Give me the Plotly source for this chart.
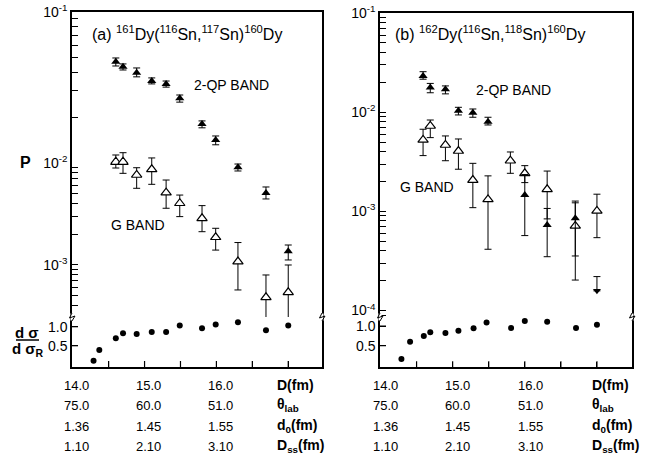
import math
import plotly.graph_objects as go

W, H = 662, 458

# ---------------- data ----------------
# Panel (a): 161Dy(116Sn,117Sn)160Dy
D_a = [14.60, 14.70, 14.89, 15.10, 15.30, 15.49, 15.80, 15.99, 16.30, 16.69, 17.00]
qp_a = [0.0469, 0.0434, 0.0396, 0.0349, 0.0334, 0.0268, 0.0181, 0.0142, 0.00908, 0.00508, 0.00136]
qp_a_hi = [0.0496, 0.0453, 0.0426, 0.0366, 0.0349, 0.0282, 0.0190, 0.0151, 0.00977, 0.00582, 0.00157]
qp_a_lo = [0.0439, 0.0413, 0.0372, 0.0334, 0.0318, 0.0253, 0.0171, 0.0132, 0.00835, 0.00444, 0.00112]
g_a = [0.0102, 0.0102, 0.00763, 0.00867, 0.00512, 0.00403, 0.00287, 0.00187, 0.00108, 0.000482, 0.000540]
g_a_hi = [0.0113, 0.0117, 0.00899, 0.0108, 0.00681, 0.00485, 0.00382, 0.00229, 0.00166, 0.000798, 0.00100]
g_a_lo = [0.00893, 0.00792, 0.00565, 0.00618, 0.00360, 0.00298, 0.00212, 0.00140, 0.000569, 0.000258, 0.000282]
sig_D_a = [14.29, 14.37, 14.60, 14.70, 14.89, 15.10, 15.30, 15.49, 15.80, 15.99, 16.30, 16.69, 17.00]
sig_a = [0.105, 0.387, 0.694, 0.826, 0.808, 0.861, 0.861, 1.03, 0.957, 1.06, 1.12, 0.905, 1.03]

# Panel (b): 162Dy(116Sn,118Sn)160Dy
D_b_qp = [14.59, 14.69, 14.90, 15.08, 15.28, 15.49, 16.00, 16.31, 16.70]
qp_b = [0.0232, 0.0177, 0.0170, 0.01035, 0.00989, 0.00802, 0.00146, 0.00073, 0.00085]
qp_b_hi = [0.0256, 0.0195, 0.0184, 0.0112, 0.01077, 0.00889, 0.00235, 0.00107, 0.00127]
qp_b_lo = [0.0215, 0.0157, 0.0153, 0.00938, 0.00889, 0.00743, 0.00057, 0.000349, 0.000355]
D_b_lim = [17.00]
qp_b_lim = [0.000158]
qp_b_lim_hi = [0.00022]
D_b_g = [14.59, 14.69, 14.90, 15.08, 15.28, 15.49, 15.80, 16.00, 16.31, 16.70, 17.00]
g_b = [0.00525, 0.00726, 0.00467, 0.00406, 0.00207, 0.00132, 0.00324, 0.00242, 0.00167, 0.000713, 0.00101]
g_b_hi = [0.00673, 0.00834, 0.00576, 0.00537, 0.00305, 0.00228, 0.00397, 0.00289, 0.00255, 0.00122, 0.00149]
g_b_lo = [0.00365, 0.00554, 0.00324, 0.00266, 0.00109, 0.000415, 0.00242, 0.00195, 0.00084, 0.000203, 0.000543]
sig_D_b = [14.29, 14.41, 14.60, 14.69, 14.90, 15.08, 15.29, 15.47, 15.81, 16.00, 16.31, 16.71, 17.00]
sig_b = [0.16, 0.60, 0.745, 0.84, 0.82, 0.88, 0.94, 1.09, 0.95, 1.13, 1.11, 0.95, 1.03]

# table under the panels
table_D = ["14.0", "15.0", "16.0"]
table_theta = ["75.0", "60.0", "51.0"]
table_d0 = ["1.36", "1.45", "1.55"]
table_Dss = ["1.10", "2.10", "3.10"]
row_titles = ["D(fm)", "θ<sub>lab</sub>", "d<sub>0</sub>(fm)", "D<sub>ss</sub>(fm)"]

# axis tick values
x_ticks = [14.5, 15.0, 15.5, 16.0, 16.5, 17.0]
sig_ticks = [0.5, 1.0]

FONT = "Liberation Sans"


def px(x):
    return x / W


def py(y):
    return 1 - y / H


def err(v, hi, lo):
    return dict(type="data", symmetric=False,
                array=[h - x for x, h in zip(v, hi)],
                arrayminus=[x - l for x, l in zip(v, lo)],
                color="black", thickness=1, width=3.5)


def tri(x, v, hi, lo, xa, ya, open_=False):
    return go.Scatter(
        x=x, y=v, mode="markers", xaxis=xa, yaxis=ya,
        marker=dict(symbol="triangle-up", size=9 if open_ else 8,
                    color="white" if open_ else "black",
                    line=dict(color="black", width=1.2 if open_ else 0)),
        error_y=err(v, hi, lo), hoverinfo="skip")


fig = go.Figure()

# ---- panel (a): split log scale (upper decade drawn taller) ----
for xa, ya in (("x3", "y3"), ("x2", "y2")):
    fig.add_trace(tri(D_a, g_a, g_a_hi, g_a_lo, xa, ya, open_=True))
    fig.add_trace(tri(D_a, qp_a, qp_a_hi, qp_a_lo, xa, ya))
fig.add_trace(go.Scatter(x=sig_D_a, y=sig_a, mode="markers", xaxis="x", yaxis="y",
                         marker=dict(symbol="circle", size=6, color="black"), hoverinfo="skip"))

# ---- panel (b) ----
fig.add_trace(tri(D_b_g, g_b, g_b_hi, g_b_lo, "x5", "y5", open_=True))
fig.add_trace(tri(D_b_qp, qp_b, qp_b_hi, qp_b_lo, "x5", "y5"))
fig.add_trace(go.Scatter(
    x=D_b_lim, y=qp_b_lim, mode="markers", xaxis="x5", yaxis="y5",
    marker=dict(symbol="triangle-down", size=7, color="black"),
    error_y=dict(type="data", symmetric=False,
                 array=[h - v for v, h in zip(qp_b_lim, qp_b_lim_hi)],
                 arrayminus=[0 for _ in qp_b_lim],
                 color="black", thickness=1, width=3.5),
    hoverinfo="skip"))
fig.add_trace(go.Scatter(x=sig_D_b, y=sig_b, mode="markers", xaxis="x4", yaxis="y4",
                         marker=dict(symbol="circle", size=6, color="black"), hoverinfo="skip"))

tickfont = dict(family=FONT, size=14, color="black")
COMMON = dict(showgrid=False, zeroline=False, automargin=False, layer="above traces")
LINE = dict(showline=True, linecolor="#000000", linewidth=1.5)


def minor_list(lo_exp, hi_exp):
    return [m * 10.0 ** e for e in range(lo_exp, hi_exp) for m in range(2, 10)]


def log_y(domain, rng, majors, lo_exp, hi_exp, anchor):
    vals = list(majors) + minor_list(lo_exp, hi_exp)
    texts = ["10<sup>%d</sup>" % round(math.log10(v)) for v in majors] + [""] * (len(vals) - len(majors))
    return dict(type="log", domain=domain, range=rng, anchor=anchor, autorange=False,
                mirror=True, tickmode="array", tickvals=vals, ticktext=texts,
                ticks="inside", ticklen=6, tickwidth=1.3, tickcolor="#000000", tickfont=tickfont,
                **LINE, **COMMON)


def lin_y(domain, rng, anchor):
    return dict(domain=domain, range=rng, autorange=False, anchor=anchor,
                mirror=True, tickmode="array",
                tickvals=sig_ticks, ticktext=["%.1f" % v for v in sig_ticks], ticks="inside",
                ticklen=6, tickwidth=1.3, tickcolor="#000000", tickfont=tickfont, **LINE, **COMMON)


def bottom_x(domain, rng, anchor):
    return dict(domain=domain, range=rng, autorange=False, anchor=anchor, tickmode="array",
                tickvals=x_ticks, ticks="inside",
                ticklen=6, tickwidth=1.3, tickcolor="#000000", showticklabels=False,
                **LINE, **COMMON)


def top_x(domain, rng, anchor):
    return dict(domain=domain, range=rng, autorange=False, anchor=anchor, side="top", ticks="",
                showticklabels=False, **LINE, **COMMON)


xa_dom = [px(72), px(322)]
xb_dom = [px(380), px(632)]
xa_rng = [13.99, 17.47]
xb_rng = [13.993, 17.486]
ya_lin_rng = [-0.06, 1.255]
yb_lin_rng = [-0.05, 1.229]
y2_rng, y3_rng, y5_rng = [-3.51, -2], [-2, -1], [-4.065, -1]

fig.update_layout(
    width=W, height=H, margin=dict(l=0, r=0, t=0, b=0, pad=0, autoexpand=False),
    paper_bgcolor="white", plot_bgcolor="rgba(0,0,0,0)", showlegend=False,
    font=dict(family=FONT, color="black"),
    xaxis=bottom_x(xa_dom, xa_rng, "y"),
    yaxis=lin_y([py(367), py(317)], ya_lin_rng, "x"),
    xaxis2=dict(domain=xa_dom, range=xa_rng, autorange=False, anchor="y2", showline=False,
                ticks="", showticklabels=False, **COMMON),
    yaxis2=log_y([py(317), py(163)], y2_rng, [0.001], -4, -2, "x2"),
    xaxis3=top_x(xa_dom, xa_rng, "y3"),
    yaxis3=log_y([py(163), py(12)], y3_rng, [0.1, 0.01], -2, -1, "x3"),
    xaxis4=bottom_x(xb_dom, xb_rng, "y4"),
    yaxis4=lin_y([py(367.3), py(317)], yb_lin_rng, "x4"),
    xaxis5=top_x(xb_dom, xb_rng, "y5"),
    yaxis5=log_y([py(317), py(13)], y5_rng, [0.1, 0.01, 0.001, 0.0001], -5, -1, "x5"),
)

ann = []


def text(x, y, s, size=14, xanchor="center", bold=False):
    ann.append(dict(x=px(x), y=py(y), xref="paper", yref="paper", text=("<b>%s</b>" % s) if bold else s,
                    showarrow=False, xanchor=xanchor, yanchor="middle",
                    font=dict(family=FONT, size=size, color="black")))


text(90, 33, "(a) <sup>161</sup>Dy(<sup>116</sup>Sn,<sup>117</sup>Sn)<sup>160</sup>Dy", size=16, xanchor="left")
text(393, 33, "(b) <sup>162</sup>Dy(<sup>116</sup>Sn,<sup>118</sup>Sn)<sup>160</sup>Dy", size=16, xanchor="left")
text(231, 85, "2-QP BAND")
text(138, 225, "G BAND")
text(513, 90, "2-QP BAND")
text(427, 187, "G BAND")
text(25, 162, "P", size=16, bold=True)
text(27, 332, "d σ", size=15, bold=True)
text(28, 349, "d σ<sub>R</sub>", size=15, bold=True)

rows_y = [385, 405, 426, 446]
rows = [table_D, table_theta, table_d0, table_Dss]
for cols, title_x in (([76, 148, 220], 275), ([385, 457, 530], 590)):
    for yy, vals, title in zip(rows_y, rows, row_titles):
        for xx, v in zip(cols, vals):
            text(xx, yy, v, size=13)
        text(title_x, yy, title, size=14, xanchor="left", bold=True)

fig.update_layout(annotations=ann)

shapes = [dict(type="line", xref="paper", yref="paper", x0=px(16), x1=px(39),
               y0=py(340), y1=py(340), line=dict(color="black", width=1.5))]

# inside tick marks, placed through the axes' own scales (log axes take log10 values)
TL = 6.0
TICK = dict(color="black", width=1.2)


def ytick_shapes(xref, yref, xrng, xlen_px, yvals, is_log):
    step = (xrng[1] - xrng[0]) * TL / xlen_px
    out = []
    for v in yvals:
        yv = math.log10(v) if is_log else v
        out.append(dict(type="line", xref=xref, yref=yref, x0=xrng[0], x1=xrng[0] + step,
                        y0=yv, y1=yv, line=TICK, layer="above"))
    return out


def xtick_shapes(xref, yref, yrng, ylen_px, xvals):
    step = (yrng[1] - yrng[0]) * TL / ylen_px
    return [dict(type="line", xref=xref, yref=yref, x0=v, x1=v, y0=yrng[0], y1=yrng[0] + step,
                 line=TICK, layer="above") for v in xvals]


shapes += ytick_shapes("x3", "y3", xa_rng, 250, [0.1, 0.01] + minor_list(-2, -1), True)
shapes += ytick_shapes("x2", "y2", xa_rng, 250, [0.001] + minor_list(-4, -2), True)
shapes += ytick_shapes("x5", "y5", xb_rng, 252, [0.1, 0.01, 0.001, 0.0001] + minor_list(-5, -1), True)
shapes += ytick_shapes("x", "y", xa_rng, 250, sig_ticks, False)
shapes += ytick_shapes("x4", "y4", xb_rng, 252, sig_ticks, False)
shapes += xtick_shapes("x", "y", ya_lin_rng, 50, x_ticks)
shapes += xtick_shapes("x4", "y4", yb_lin_rng, 50.3, x_ticks)


def zig(x0, y0=317):
    pts = [(x0, y0 - 4), (x0 - 2.5, y0 + 1), (x0 + 3, y0 - 1), (x0, y0 + 4)]
    return "M " + " L ".join("%.5f,%.5f" % (px(a), py(b)) for a, b in pts)


for x0 in (72, 322, 380, 632):
    shapes.append(dict(type="line", xref="paper", yref="paper", x0=px(x0), x1=px(x0),
                       y0=py(313.5), y1=py(320.5), line=dict(color="white", width=3)))
    shapes.append(dict(type="path", xref="paper", yref="paper", path=zig(x0),
                       line=dict(color="black", width=1)))
fig.update_layout(shapes=shapes)

fig.write_html("out.html", config={"displayModeBar": False},
               post_script="document.body.style.margin='0px';")
